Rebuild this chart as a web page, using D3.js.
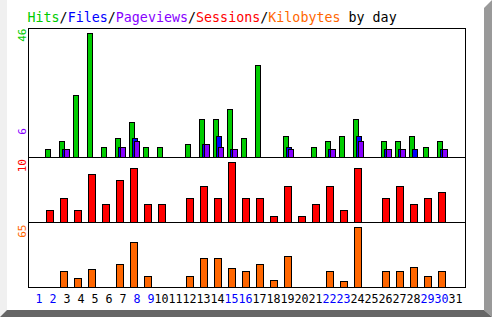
<!DOCTYPE html>
<html>
<head>
<meta charset="utf-8">
<script src="https://cdn.jsdelivr.net/npm/d3@7"></script>
<style>
  body { margin: 0; background: #fff; }
  svg { display: block; }
  text { font-family: "DejaVu Sans Mono", "Liberation Mono", monospace; }
</style>
</head>
<body>
<div id="chart"></div>
<script>
// data, one value per day of the month
const days = d3.range(1, 32);
const weekendDays = [1, 2, 8, 9, 15, 16, 22, 23, 29, 30];
const hits      = [0, 3, 6, 23, 46, 4, 7, 13, 4, 4, 0, 5, 14, 14, 18, 7, 34, 0, 8, 0, 4, 6, 8, 14, 0, 6, 6, 8, 4, 6, 0];
const files     = [0, 0, 3, 0, 0, 0, 4, 7, 0, 0, 0, 0, 5, 8, 3, 0, 0, 0, 4, 0, 0, 3, 0, 8, 0, 3, 3, 3, 0, 3, 0];
const pageviews = [0, 0, 3, 0, 0, 0, 4, 6, 0, 0, 0, 0, 5, 4, 3, 0, 0, 0, 3, 0, 0, 3, 0, 6, 0, 3, 3, 0, 0, 3, 0];
const sessions  = [0, 2, 4, 2, 8, 3, 7, 9, 3, 3, 0, 4, 6, 4, 10, 4, 4, 1, 6, 1, 3, 6, 2, 9, 0, 4, 6, 3, 4, 5, 0];
const kilobytes = [0, 0, 18, 10, 20, 0, 25, 48, 12, 0, 0, 12, 31, 31, 21, 18, 25, 8, 34, 0, 0, 18, 7, 65, 0, 18, 18, 22, 12, 18, 0];

// title pieces
const titleParts = [
  { t: "Hits", c: "#00cc00" }, { t: "/", c: "#000" },
  { t: "Files", c: "#0000ff" }, { t: "/", c: "#000" },
  { t: "Pageviews", c: "#8800ff" }, { t: "/", c: "#000" },
  { t: "Sessions", c: "#ff0000" }, { t: "/", c: "#000" },
  { t: "Kilobytes", c: "#ff6600" }, { t: " by day", c: "#000" }
];

const W = 492, H = 317;
const colors = { hits: "#00cc00", files: "#0000ff", pages: "#8800ff", sess: "#ff0000", kb: "#ff6600" };

const svg = d3.select("#chart").append("svg")
    .attr("width", W)
    .attr("height", H);

// background + bevel frame
svg.append("rect").attr("width", W).attr("height", H).attr("fill", "#fff");
svg.append("polygon").attr("points", "0,0 7,0 7,310 0,317").attr("fill", "#f0f0f0");
svg.append("polygon").attr("points", "484,8 492,0 492,317 484,310").attr("fill", "#999");
svg.append("polygon").attr("points", "0,317 7,310 484,310 492,317").attr("fill", "#666");

// title
const title = svg.append("text")
    .attr("x", 27.5)
    .attr("y", 22)
    .style("font-size", "13.33px");
titleParts.forEach(p => title.append("tspan").attr("fill", p.c).text(p.t));

// x scale, one 14px band per day
const x = d3.scaleBand().domain(days).range([29, 463]);

// three stacked panels
const panels = [
  { top: 28.5, bottom: 157.5, max: d3.max(hits) },
  { top: 157.5, bottom: 222.5, max: d3.max(sessions) },
  { top: 222.5, bottom: 287.5, max: d3.max(kilobytes) }
];
panels.forEach(p => {
  p.y = d3.scaleLinear().domain([0, p.max]).range([p.bottom, p.top + 4]);
});

function drawBars(values, panel, color, offset, w) {
  svg.append("g")
    .selectAll("rect")
    .data(days.filter((d, i) => values[i] > 0))
    .join("rect")
      .attr("x", d => x(d) + offset + 0.5)
      .attr("width", w - 1)
      .attr("y", d => Math.round(panel.y(values[d - 1])) + 0.5)
      .attr("height", d => panel.bottom - (Math.round(panel.y(values[d - 1])) + 0.5))
      .attr("fill", color)
      .attr("stroke", "#000")
      .attr("stroke-width", 1);
}

drawBars(hits, panels[0], colors.hits, 2, 6);
drawBars(files, panels[0], colors.files, 5, 6);
drawBars(pageviews, panels[0], colors.pages, 7, 6);
drawBars(sessions, panels[1], colors.sess, 3, 8);
drawBars(kilobytes, panels[2], colors.kb, 3, 8);

// frame and panel dividers
svg.append("rect")
    .attr("x", 28.5).attr("y", 28.5)
    .attr("width", 437).attr("height", 259)
    .attr("fill", "none").attr("stroke", "#000");
[157.5, 222.5].forEach(yy => {
  svg.append("line")
    .attr("x1", 28).attr("x2", 466)
    .attr("y1", yy).attr("y2", yy)
    .attr("stroke", "#000");
});

// rotated max labels
function maxLabel(txt, color, yEnd) {
  svg.append("text")
    .attr("transform", `translate(26,${yEnd}) rotate(-90)`)
    .attr("text-anchor", "end")
    .attr("fill", color)
    .style("font-size", "11px")
    .text(txt);
}
maxLabel(d3.max(hits), colors.hits, panels[0].top);
maxLabel(d3.max(pageviews), colors.pages, panels[0].y(d3.max(pageviews)) - 13);
maxLabel(d3.max(sessions), colors.sess, panels[1].top + 1.5);
maxLabel(d3.max(kilobytes), colors.kb, panels[2].top + 2);

// day labels
svg.append("g")
  .selectAll("text")
  .data(days)
  .join("text")
    .attr("x", d => x(d) + 13.5)
    .attr("y", 303)
    .attr("text-anchor", "end")
    .attr("fill", d => weekendDays.includes(d) ? "#0000ff" : "#000")
    .style("font-size", "11.67px")
    .text(d => d);
</script>
</body>
</html>
